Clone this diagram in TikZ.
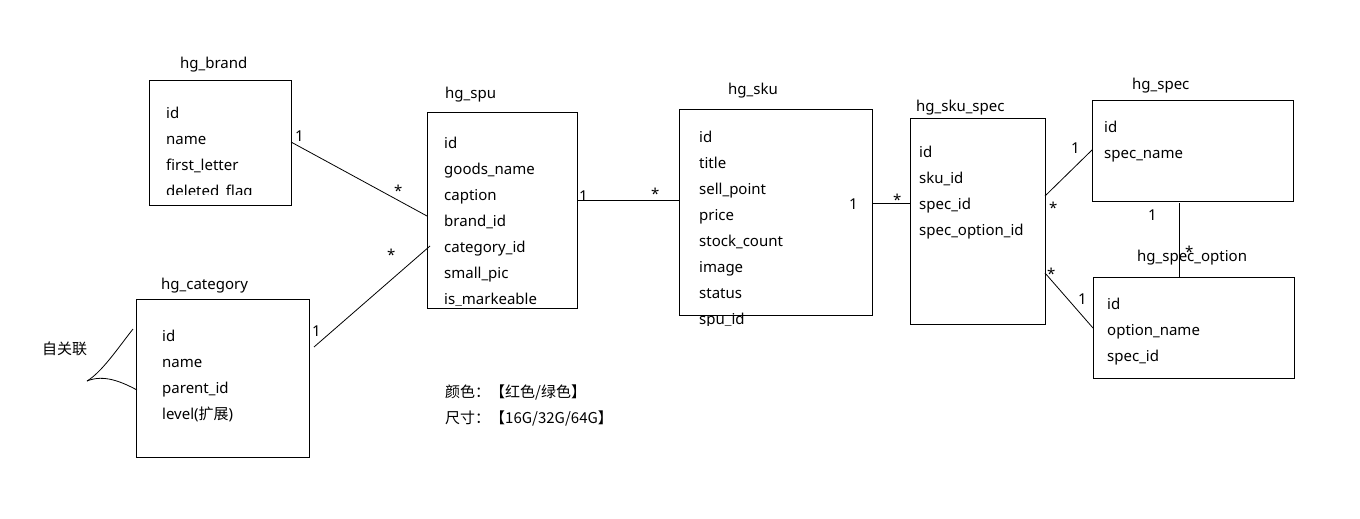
\documentclass[tikz,border=0pt]{standalone}
\usepackage{fontspec}
\setmainfont{Noto Sans}
\newfontfamily\cjk{Noto Sans CJK SC}
\begin{document}
\begin{tikzpicture}[x=1pt,y=-1pt,
  box/.style={draw, line width=1pt, inner sep=0pt, anchor=north west},
  fld/.style={anchor=base west, inner sep=0pt, font=\fontsize{15}{18}\selectfont},
  ttl/.style={anchor=base west, inner sep=0pt, font=\fontsize{15}{18}\selectfont},
  lbl/.style={anchor=base west, inner sep=0pt, font=\fontsize{15}{18}\selectfont},
  rel/.style={line width=0.8pt}]
\useasboundingbox (0,0) rectangle (1360,519);

% boxes
\node[box, minimum width=142, minimum height=125] (brand) at (149,80) {};
\node[box, minimum width=150, minimum height=196] (spu) at (427,112) {};
\node[box, minimum width=193, minimum height=206] (sku) at (679,109) {};
\node[box, minimum width=135, minimum height=206] (skuspec) at (910,118) {};
\node[box, minimum width=201, minimum height=101] (spec) at (1092,100) {};
\node[box, minimum width=201, minimum height=101] (option) at (1093,277) {};
\node[box, minimum width=173, minimum height=158] (category) at (136,299) {};

% titles
\node[ttl] (t-brand) at (180,69) {hg\_brand};
\node[ttl] (t-spu) at (445,99) {hg\_spu};
\node[ttl] (t-sku) at (728,95) {hg\_sku};
\node[ttl] (t-skuspec) at (916,111) {hg\_sku\_spec};
\node[ttl] (t-spec) at (1132,89) {hg\_spec};
\node[ttl] (t-option) at (1137,261) {hg\_spec\_option};
\node[ttl] (t-category) at (161,289) {hg\_category};

% fields
\begin{scope}
\clip (149,80) rectangle (291,194);
\foreach \t [count=\i] in {id,name,first\_letter,deleted\_flag}
  \node[fld] (brand-f\i) at (166,{118+26*(\i-1)}) {\t};
\end{scope}
\begin{scope}
\clip (427,112) rectangle (577,305.5);
\foreach \t [count=\i] in {id,goods\_name,caption,brand\_id,category\_id,small\_pic,is\_markeable}
  \node[fld] (spu-f\i) at (444,{148+26*(\i-1)}) {\t};
\end{scope}
\begin{scope}
\clip (679,109) rectangle (872,325);
\foreach \t [count=\i] in {id,title,sell\_point,price,stock\_count,image,status,spu\_id}
  \node[fld] (sku-f\i) at (699,{142+26*(\i-1)}) {\t};
\end{scope}
\foreach \t [count=\i] in {id,sku\_id,spec\_id,spec\_option\_id}
  \node[fld] (skuspec-f\i) at (919,{157+26*(\i-1)}) {\t};
\foreach \t [count=\i] in {id,spec\_name}
  \node[fld] (spec-f\i) at (1104,{132+26*(\i-1)}) {\t};
\foreach \t [count=\i] in {id,option\_name,spec\_id}
  \node[fld] (option-f\i) at (1107,{309+26*(\i-1)}) {\t};
\foreach \t [count=\i] in {id,name,parent\_id}
  \node[fld] (category-f\i) at (162,{341+26*(\i-1)}) {\t};
\node[fld] (category-f4) at (162,419) {level({\cjk 扩展})};

% connector end points
\coordinate (bs1) at (291,142);
\coordinate (bs2) at (427,216);
\coordinate (cs1) at (314,347);
\coordinate (cs2) at (430,246);
\coordinate (ss1) at (577,200);
\coordinate (ss2) at (679,200);
\coordinate (kk1) at (872,203);
\coordinate (kk2) at (910,203);
\coordinate (kp1) at (1045,196);
\coordinate (kp2) at (1092,150);
\coordinate (ko1) at (1045,273);
\coordinate (ko2) at (1093,328);
\coordinate (po1) at (1179,203);
\coordinate (po2) at (1179,277);
\coordinate (selfT) at (133,329);
\coordinate (selfM) at (87,381);
\coordinate (selfB) at (137,390);

\draw[rel] (bs1) -- (bs2);
\draw[rel] (cs1) -- (cs2);
\draw[rel] (ss1) -- (ss2);
\draw[rel] (kk1) -- (kk2);
\draw[rel] (kp1) -- (kp2);
\draw[rel] (ko1) -- (ko2);
\draw[rel] (po1) -- (po2);
\draw[rel] (selfT) .. controls (118,348) and (102,372) .. (selfM);
\draw[rel] (selfM) .. controls (104,374) and (122,382) .. (selfB);

% multiplicity labels
\node[lbl] (l1) at (295,141) {1};
\node[lbl] (l2) at (394,196) {*};
\node[lbl] (l3) at (312,336) {1};
\node[lbl] (l4) at (387,260) {*};
\node[lbl] (l5) at (579,201) {1};
\node[lbl] (l6) at (651,199) {*};
\node[lbl] (l7) at (849,209) {1};
\node[lbl] (l8) at (893,205) {*};
\node[lbl] (l9) at (1071,153) {1};
\node[lbl] (l10) at (1049,213) {*};
\node[lbl] (l11) at (1047,279) {*};
\node[lbl] (l12) at (1078,304) {1};
\node[lbl] (l13) at (1148,220) {1};
\node[lbl] (l14) at (1185,257) {*};

% notes
\node[fld] (self) at (42,354) {\cjk 自关联};
\node[fld] (note1) at (445,397) {\cjk 颜色：【红色/绿色】};
\node[fld] (note2) at (445,423) {\cjk 尺寸：【16G/32G/64G】};
\end{tikzpicture}
\end{document}
